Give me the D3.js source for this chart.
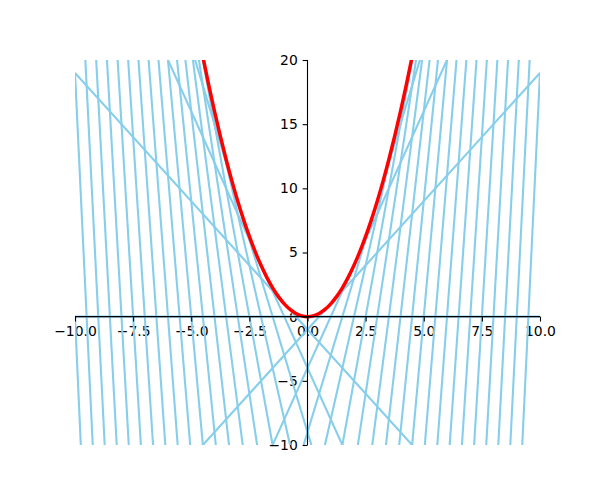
<!DOCTYPE html>
<html>
<head>
<meta charset="utf-8">
<script src="https://cdn.jsdelivr.net/npm/d3@7"></script>
<style>
  html, body { margin: 0; padding: 0; background: #fff; }
  text { font-family: "DejaVu Sans", sans-serif; font-size: 13.9px; fill: #000; }
</style>
</head>
<body>
<svg id="chart" width="600" height="500"></svg>
<script>
// ---- data ----
// tangent lines (slope, intercept) of the tangents to y = x^2 at a = -20 .. 19
const tangentSlopes = [-40,-38,-36,-34,-32,-30,-28,-26,-24,-22,-20,-18,-16,-14,-12,-10,-8,-6,-4,-2,
                       0,2,4,6,8,10,12,14,16,18,20,22,24,26,28,30,32,34,36,38];
const tangentIntercepts = [-400,-361,-324,-289,-256,-225,-196,-169,-144,-121,-100,-81,-64,-49,-36,-25,-16,-9,-4,-1,
                           0,-1,-4,-9,-16,-25,-36,-49,-64,-81,-100,-121,-144,-169,-196,-225,-256,-289,-324,-361];
// parabola samples
const curveX = [-5,-4.75,-4.5,-4.25,-4,-3.75,-3.5,-3.25,-3,-2.75,-2.5,-2.25,-2,-1.75,-1.5,-1.25,-1,-0.75,-0.5,-0.25,
                0,0.25,0.5,0.75,1,1.25,1.5,1.75,2,2.25,2.5,2.75,3,3.25,3.5,3.75,4,4.25,4.5,4.75,5];
const curveY = [25,22.5625,20.25,18.0625,16,14.0625,12.25,10.5625,9,7.5625,6.25,5.0625,4,3.0625,2.25,1.5625,1,0.5625,0.25,0.0625,
                0,0.0625,0.25,0.5625,1,1.5625,2.25,3.0625,4,5.0625,6.25,7.5625,9,10.5625,12.25,14.0625,16,18.0625,20.25,22.5625,25];
const xTicks = [-10,-7.5,-5,-2.5,0,2.5,5,7.5,10];
const xTickLabels = ["\u221210.0","\u22127.5","\u22125.0","\u22122.5","0.0","2.5","5.0","7.5","10.0"];
const yTicks = [-10,-5,0,5,10,15,20];
const yTickLabels = ["\u221210","\u22125","0","5","10","15","20"];
const xDomain = [-10, 10];
const yDomain = [-10, 20];

// ---- layout ----
const L = 75, R = 540, T = 60, B = 445;
const svg = d3.select("#chart");
const x = d3.scaleLinear().domain(xDomain).range([L, R]);
const y = d3.scaleLinear().domain(yDomain).range([B, T]);

svg.append("defs").append("clipPath").attr("id", "clip")
  .append("rect").attr("x", L).attr("y", T).attr("width", R - L).attr("height", B - T);

const tickLen = 4.86, pad = 4.86;

// ---- tick labels (below the plotted lines) ----
const xAxisLabels = d3.axisBottom(x).tickValues(xTicks).tickFormat((d, i) => xTickLabels[i])
  .tickSize(tickLen).tickPadding(pad);
const yAxisLabels = d3.axisLeft(y).tickValues(yTicks).tickFormat((d, i) => yTickLabels[i])
  .tickSize(tickLen).tickPadding(pad);
const gxl = svg.append("g").attr("transform", `translate(0,${y(0)})`).call(xAxisLabels);
const gyl = svg.append("g").attr("transform", `translate(${x(0)},0)`).call(yAxisLabels);
[gxl, gyl].forEach(g => {
  g.select(".domain").remove();
  g.selectAll(".tick line").remove();
  g.selectAll(".tick text").attr("font-family", "DejaVu Sans").attr("font-size", "13.9px").attr("fill", "#000");
});

// ---- tangent lines ----
const plot = svg.append("g").attr("clip-path", "url(#clip)");
const line = d3.line().x(d => x(d[0])).y(d => y(d[1]));
tangentSlopes.forEach((m, i) => {
  const b = tangentIntercepts[i];
  const pts = xDomain.map(xv => [xv, m * xv + b]);
  plot.append("path").attr("d", line(pts))
    .attr("fill", "none").attr("stroke", "skyblue").attr("stroke-width", 2.1);
});

// ---- parabola ----
const curvePts = curveX.map((xv, i) => [xv, curveY[i]]);
plot.append("path")
  .attr("d", d3.line().x(d => x(d[0])).y(d => y(d[1])).curve(d3.curveCatmullRom)(curvePts))
  .attr("fill", "none").attr("stroke", "red").attr("stroke-width", 3.5);

// ---- spines and tick marks (above the lines) ----
const xAxis = d3.axisBottom(x).tickValues(xTicks).tickFormat("").tickSize(tickLen);
const yAxis = d3.axisLeft(y).tickValues(yTicks).tickFormat("").tickSize(tickLen);
const gx = svg.append("g").attr("transform", `translate(0,${y(0)})`).call(xAxis);
const gy = svg.append("g").attr("transform", `translate(${x(0)},0)`).call(yAxis);
[gx, gy].forEach(g => {
  g.selectAll(".tick text").remove();
  g.select(".domain").attr("stroke", "#000").attr("stroke-width", 1.1);
  g.selectAll(".tick line").attr("stroke", "#000").attr("stroke-width", 1.1);
});
gx.select(".domain").attr("d", `M${L},0H${R}`);
gy.select(".domain").attr("d", `M0,${B}V${T}`);
</script>
</body>
</html>
